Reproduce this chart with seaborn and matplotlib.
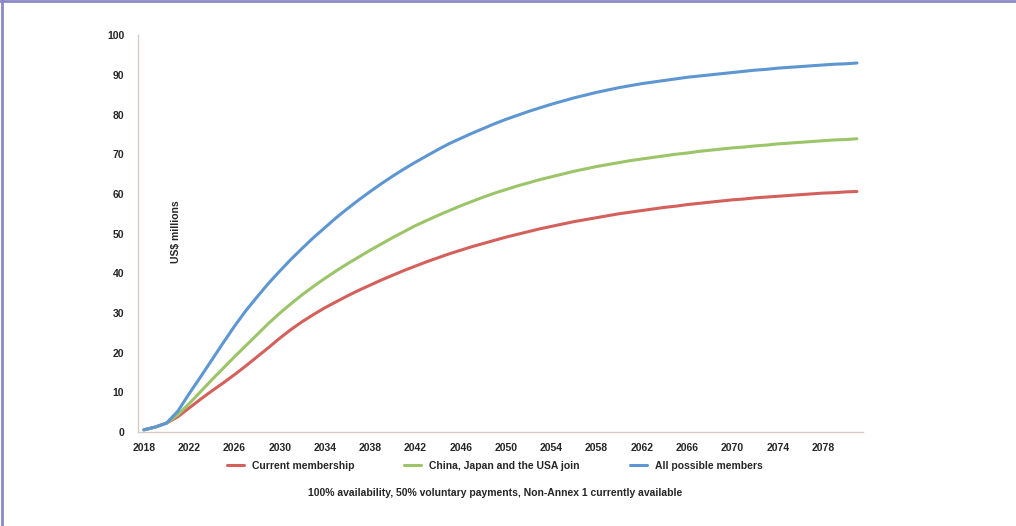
import numpy as np
import pandas as pd
import seaborn as sns
from matplotlib import pyplot as plt
from matplotlib.lines import Line2D

years = list(range(2018, 2082))

current = [0.5, 1.2, 2.2, 3.8, 6.0, 8.2, 10.3, 12.3, 14.4, 16.6,
           18.9, 21.2, 23.6, 25.8, 27.8, 29.6, 31.3, 32.8, 34.3, 35.7,
           37.0, 38.3, 39.5, 40.7, 41.8, 42.9, 43.9, 44.9, 45.8, 46.7,
           47.5, 48.3, 49.1, 49.8, 50.5, 51.2, 51.8, 52.4, 53.0, 53.5,
           54.0, 54.5, 55.0, 55.4, 55.8, 56.2, 56.6, 56.9, 57.3, 57.6,
           57.9, 58.2, 58.5, 58.7, 59.0, 59.2, 59.4, 59.6, 59.8, 60.0,
           60.2, 60.3, 60.5, 60.6]
china_japan_usa = [0.5, 1.2, 2.2, 4.3, 7.1, 10.1, 13.1, 16.0, 18.9, 21.7,
                   24.5, 27.3, 29.9, 32.3, 34.6, 36.7, 38.7, 40.6, 42.4, 44.1,
                   45.8, 47.4, 49.0, 50.5, 52.0, 53.3, 54.6, 55.8, 57.0, 58.1,
                   59.2, 60.2, 61.1, 62.0, 62.8, 63.6, 64.3, 65.0, 65.7, 66.3,
                   66.9, 67.4, 67.9, 68.4, 68.8, 69.2, 69.6, 70.0, 70.3, 70.7,
                   71.0, 71.3, 71.6, 71.8, 72.1, 72.3, 72.6, 72.8, 73.0, 73.2,
                   73.4, 73.6, 73.7, 73.9]
all_members = [0.5, 1.2, 2.2, 5.2, 9.6, 13.8, 18.1, 22.4, 26.6, 30.5,
               34.0, 37.4, 40.5, 43.5, 46.3, 49.0, 51.5, 54.0, 56.3, 58.5,
               60.6, 62.6, 64.5, 66.3, 68.0, 69.6, 71.2, 72.7, 74.0, 75.3,
               76.5, 77.7, 78.8, 79.8, 80.8, 81.7, 82.6, 83.4, 84.2, 84.9,
               85.6, 86.2, 86.8, 87.3, 87.8, 88.2, 88.6, 89.0, 89.4, 89.7,
               90.0, 90.3, 90.6, 90.9, 91.2, 91.4, 91.7, 91.9, 92.1, 92.3,
               92.5, 92.7, 92.8, 93.0]

series_names = ["Current membership", "China, Japan and the USA join", "All possible members"]
colors = ["#D4605B", "#9CC468", "#5E96D2"]

df = pd.DataFrame({
    "year": years * 3,
    "value": current + china_japan_usa + all_members,
    "series": [series_names[0]] * len(years) + [series_names[1]] * len(years) + [series_names[2]] * len(years),
})

sns.set_style("white")
plt.rcParams['font.family'] = ['Liberation Sans Narrow', 'Liberation Sans', 'DejaVu Sans']

fig = plt.figure(figsize=(10.16, 5.26), dpi=100)
ax = fig.add_axes([0.136, 0.179, 0.713, 0.754])

sns.lineplot(data=df, x="year", y="value", hue="series", palette=colors,
             linewidth=2.2, ax=ax, legend=False)

ax.set_xlim(2017.5, 2081.5)
ax.set_ylim(0, 100)
ax.set_xticks(range(2018, 2082, 4))
ax.set_xticks(np.arange(2017.5, 2082, 1), minor=True)
ax.set_yticks(range(0, 101, 10))
ax.set_xlabel("")
ax.set_ylabel("")

for side in ["top", "right"]:
    ax.spines[side].set_visible(False)
for side in ["left", "bottom"]:
    ax.spines[side].set_color("#D8CACA")
    ax.spines[side].set_linewidth(1.0)

ax.tick_params(axis="y", length=4, color="#D8CACA", labelsize=7.5, pad=6)
ax.tick_params(axis="x", which="major", length=0, labelsize=7.5, pad=8)
ax.tick_params(axis="x", which="minor", length=3, color="#D8CACA")
for lbl in ax.get_xticklabels() + ax.get_yticklabels():
    lbl.set_fontweight("bold")

ax.text(2020.8, 50.5, "US$ millions", rotation=90, fontsize=7.5, fontweight="bold",
        ha="center", va="center")

handles = [Line2D([0], [0], color=c, linewidth=2.2) for c in colors]
fig.legend(handles, series_names, loc="center", bbox_to_anchor=(0.487, 0.114), ncol=3,
           frameon=False, prop={"weight": "bold", "size": 7.5},
           handlelength=1.6, columnspacing=4.8)

fig.text(0.487, 0.063, "100% availability, 50% voluntary payments, Non-Annex 1 currently available",
         ha="center", va="center", fontsize=7.5, fontweight="bold")

# frame lines at the top and left of the picture
fig.add_artist(Line2D([0.0015, 0.0015], [0, 1], transform=fig.transFigure, color="#8C88C6", linewidth=2))
fig.add_artist(Line2D([0, 1], [0.998, 0.998], transform=fig.transFigure, color="#8C88C6", linewidth=2))

fig.savefig("out.png", dpi=100)
